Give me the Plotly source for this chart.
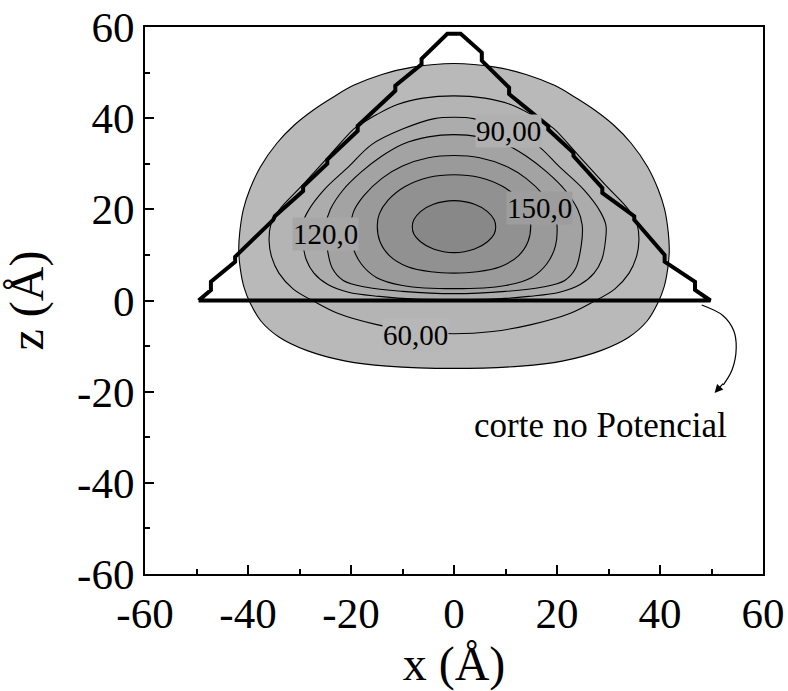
import plotly.graph_objects as go

# ---- equipotential lines of the cross-section (right half, traced from the top
#      of each line down to its bottom; every line is symmetric about x = 0)
levels = [30, 60, 90, 120, 150, 180, 210]

c30_x = [0, 8, 14, 19.5, 23.5, 27.3, 31.0, 34.4, 37.6, 39.6, 40.9, 41.6, 41.8, 41.5, 40.8, 39.6, 37.5, 34.0, 28.5, 21.0, 13.0, 0]
c30_z = [52.0, 51.2, 49.6, 47.2, 44.6, 41.8, 38.5, 34.5, 29.3, 24.5, 20.0, 15.0, 11.0, 7.0, 3.0, -0.5, -4.5, -8.0, -11.0, -13.3, -14.4, -14.9]

c60_x = [0, 6, 11, 15, 18.2, 19.5, 24.2, 29.2, 34.0, 35.6, 35.9, 35.4, 34.0, 31.2, 27.0, 22.6, 15.0, 7.5, 0]
c60_z = [44.9, 44.4, 43.0, 40.8, 38.6, 37.6, 31.8, 25.6, 19.8, 16.5, 13.0, 9.5, 6.0, 2.5, -0.3, -2.8, -5.3, -6.8, -7.3]

c90_x = [0, 3.8, 10.0, 16.0, 20.5, 25.2, 28.4, 29.5, 29.4, 28.7, 27.2, 24.5, 20.5, 14.5, 7.5, 0]
c90_z = [40.2, 39.9, 37.6, 34.2, 29.3, 24.3, 19.5, 16.5, 13.0, 9.0, 6.0, 3.5, 1.8, 0.9, 0.3, 0.2]

c120_x = [0, 5, 10, 14, 18, 21.5, 24.0, 24.9, 24.7, 23.6, 21.5, 17.0, 10.0, 0]
c120_z = [36.4, 35.9, 34.3, 31.7, 28.2, 24.3, 20.0, 16.5, 12.0, 7.0, 4.4, 2.9, 2.0, 1.5]

c150_x = [0, 5, 10, 14, 17.5, 19.5, 20.0, 19.7, 18.0, 15.0, 10.0, 0]
c150_z = [31.8, 31.3, 29.5, 26.8, 23.0, 19.5, 16.5, 12.0, 8.0, 5.0, 3.3, 2.6]

c180_x = [0, 5, 9.5, 12.8, 14.5, 14.9, 14.4, 12.5, 9.0, 4.5, 0]
c180_z = [27.6, 27.0, 25.0, 22.0, 19.0, 16.5, 13.0, 9.8, 7.4, 6.3, 6.0]

c210_x = [0, 4.0, 6.5, 7.8, 8.1, 7.8, 6.5, 4.0, 0]
c210_z = [21.9, 21.1, 19.5, 17.7, 16.2, 14.6, 12.9, 11.3, 10.5]

contours_x = [c30_x, c60_x, c90_x, c120_x, c150_x, c180_x, c210_x]
contours_z = [c30_z, c60_z, c90_z, c120_z, c150_z, c180_z, c210_z]

# grey shade of the region enclosed by each line
band_colors = ["#b9b9b9", "#b4b4b4", "#acacac", "#a3a3a3", "#9a9a9a", "#919191", "#888888"]

# line labels
label_text = ["60,00", "90,00", "120,0", "150,0"]
label_x = [-7.4, 10.6, -25.0, 16.6]
label_z = [-7.6, 37.1, 14.6, 20.2]
label_bg = ["#b7b7b7", "#b0b0b0", "#a7a7a7", "#9d9d9d"]

# cross-section of the pyramid (stepped outline)
tri_x = [-49.6, -47.2, -47.2, -42.5, -42.5, -35.1, -34.8, -29.3, -29.3, -24.6, -24.6,
         -18.7, -18.7, -11.4, -11.4, -6.3, -6.3, -1.3, 1.3,
         5.4, 5.4, 10.7, 10.7, 18.3, 18.3, 23.2, 23.2, 28.8, 28.8,
         35.0, 35.0, 40.9, 40.9, 46.8, 46.8, 49.8, -49.6]
tri_z = [0, 2.3, 4.1, 8.5, 9.6, 17.7, 18.5, 24.0, 25.0, 30.0, 30.9,
         37.2, 38.3, 46.0, 47.1, 51.8, 53.0, 58.5, 58.5,
         54.4, 52.6, 46.7, 45.3, 38.3, 37.5, 32.4, 31.7, 24.7, 23.6,
         18.5, 17.7, 10.0, 8.5, 4.1, 2.3, 0, 0]

# curved pointer to the caption
arrow_x = [48.1, 52.2, 54.3, 54.8, 54.0, 52.3]
arrow_z = [-1.0, -3.3, -6.6, -10.4, -15.2, -18.5]

tick_vals = [-60, -40, -20, 0, 20, 40, 60]
tick_text = ["-60", "-40", "-20", "0", "20", "40", "60"]

SERIF = "Liberation Serif, Times New Roman, serif"


def closed_curve(xr, zr):
    """Right half (top -> bottom) plus its mirror image (bottom -> top)."""
    xs = list(xr) + [-v for v in xr[-2:0:-1]] + [xr[0]]
    zs = list(zr) + list(zr[-2:0:-1]) + [zr[0]]
    return xs, zs


fig = go.Figure()

# filled bands, outermost first, then the lines on top
for cx, cz, col in zip(contours_x, contours_z, band_colors):
    xs, zs = closed_curve(cx, cz)
    fig.add_trace(go.Scatter(
        x=xs, y=zs, mode="lines", fill="toself", fillcolor=col,
        line=dict(color="black", width=1.1, shape="spline", smoothing=1.0),
        hoverinfo="skip", showlegend=False,
    ))

fig.add_trace(go.Scatter(
    x=tri_x, y=tri_z, mode="lines",
    line=dict(color="black", width=4),
    hoverinfo="skip", showlegend=False,
))
fig.add_trace(go.Scatter(
    x=arrow_x, y=arrow_z, mode="lines",
    line=dict(color="black", width=1.2, shape="spline"),
    hoverinfo="skip", showlegend=False,
))

for t, lx, lz, bg in zip(label_text, label_x, label_z, label_bg):
    fig.add_annotation(x=lx, y=lz, text=t, showarrow=False,
                       font=dict(family=SERIF, size=29, color="black"),
                       bgcolor=bg, borderpad=0)

fig.add_annotation(x=50.6, y=-20.3, ax=52.5, ay=-17.9, axref="x", ayref="y",
                   xref="x", yref="y", text="", showarrow=True,
                   arrowhead=2, arrowsize=1.4, arrowwidth=1.2, arrowcolor="black",
                   standoff=0)
fig.add_annotation(x=28.5, y=-27.5, text="corte no Potencial", showarrow=False,
                   font=dict(family=SERIF, size=35, color="black"))

axis_common = dict(
    range=[-60, 60], tickmode="array", tickvals=tick_vals, ticktext=tick_text,
    ticks="inside", ticklen=9, tickwidth=1.5, tickcolor="black",
    minor=dict(ticks="inside", dtick=10, tick0=0, ticklen=5, tickwidth=1.5,
               tickcolor="black", showgrid=False),
    showline=True, linecolor="black", linewidth=2, mirror=True,
    showgrid=False, zeroline=False, automargin=False,
    tickfont=dict(family=SERIF, size=43, color="black"),
)

fig.update_layout(
    width=788, height=691,
    margin=dict(l=145, r=25, t=27, b=117),
    paper_bgcolor="white", plot_bgcolor="white",
    showlegend=False,
    xaxis=dict(axis_common, title=dict(text="x (Å)", standoff=18,
                                       font=dict(family=SERIF, size=48, color="black"))),
    yaxis=dict(axis_common, title=dict(text="z (Å)", standoff=22,
                                       font=dict(family=SERIF, size=48, color="black"))),
)

fig.write_html("out.html")
